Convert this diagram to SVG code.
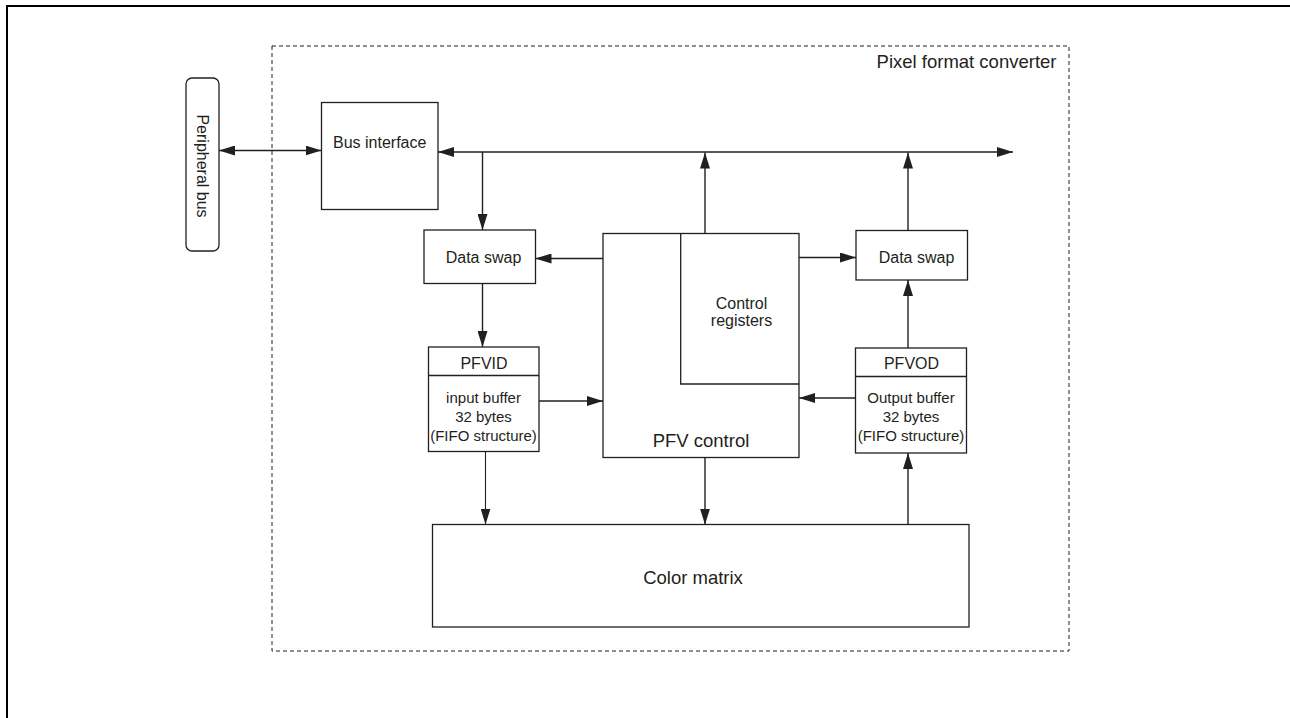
<svg xmlns="http://www.w3.org/2000/svg" width="1290" height="718" viewBox="0 0 1290 718">
<style>
.box{fill:#fff;stroke:#231f20;stroke-width:1.3}
.ln{fill:none;stroke:#231f20;stroke-width:1.4}
.t{font-family:"Liberation Sans",Arial,sans-serif;font-size:16px;fill:#231f20}
.ts{font-family:"Liberation Sans",Arial,sans-serif;font-size:15px;fill:#231f20}
.tl{font-family:"Liberation Sans",Arial,sans-serif;font-size:18.5px;fill:#231f20}
.c{text-anchor:middle}
</style>
<defs>
<marker id="ah" markerUnits="userSpaceOnUse" markerWidth="16" markerHeight="10" refX="16" refY="5" orient="auto-start-reverse">
<path d="M0,0 L16,5 L0,10 z" fill="#231f20"/>
</marker>
</defs>
<path d="M7,730 V6 H1300" fill="none" stroke="#000" stroke-width="2"/>
<g id="container">
<rect x="272" y="46" width="797" height="605" fill="none" stroke="#231f20" stroke-width="1" stroke-dasharray="4,3"/>
<text class="tl" x="1056.5" y="68" text-anchor="end">Pixel format converter</text>
</g>
<g id="peripheral-bus">
<rect class="box" x="186" y="78" width="33" height="173" rx="6"/>
<text class="t c" transform="translate(197,166) rotate(90)">Peripheral bus</text>
</g>
<g id="bus-interface">
<rect class="box" x="321.5" y="102.5" width="116.5" height="107"/>
<text class="t" x="333" y="148">Bus interface</text>
</g>
<g id="data-swap-in">
<rect class="box" x="424" y="230" width="111.5" height="53.5"/>
<text class="t c" x="483.5" y="263">Data swap</text>
</g>
<g id="data-swap-out">
<rect class="box" x="856" y="230.5" width="111.5" height="49.5"/>
<text class="t c" x="916.5" y="263">Data swap</text>
</g>
<g id="pfv-control">
<rect class="box" x="603" y="233.5" width="196" height="224"/>
<text class="tl c" x="701" y="446.5">PFV control</text>
</g>
<g id="control-registers">
<path class="ln" d="M680.7,233.5 V384 H799" style="stroke-width:1.3"/>
<text class="t c" x="741.5" y="309">Control</text>
<text class="t c" x="741.5" y="326">registers</text>
</g>
<g id="pfvid">
<rect class="box" x="428.5" y="347" width="110.5" height="104.5"/>
<line class="ln" x1="428.5" y1="375.5" x2="539" y2="375.5"/>
<text class="t c" x="484" y="369">PFVID</text>
<text class="ts c" x="483.5" y="403">input buffer</text>
<text class="ts c" x="483.5" y="422">32 bytes</text>
<text class="ts c" x="483.5" y="441">(FIFO structure)</text>
</g>
<g id="pfvod">
<rect class="box" x="855.5" y="348" width="111" height="105"/>
<line class="ln" x1="855.5" y1="376.5" x2="966.5" y2="376.5"/>
<text class="t c" x="911.5" y="369">PFVOD</text>
<text class="ts c" x="911" y="403">Output buffer</text>
<text class="ts c" x="911" y="422">32 bytes</text>
<text class="ts c" x="911" y="441">(FIFO structure)</text>
</g>
<g id="color-matrix">
<rect class="box" x="432.5" y="524.5" width="536.5" height="102.5"/>
<text class="tl c" x="693" y="584">Color matrix</text>
</g>
<g id="connectors">
<line class="ln" x1="219" y1="150.5" x2="321.5" y2="150.5" marker-start="url(#ah)" marker-end="url(#ah)"/>
<line class="ln" x1="438" y1="152" x2="1013" y2="152" marker-start="url(#ah)" marker-end="url(#ah)"/>
<line class="ln" x1="482.5" y1="152" x2="482.5" y2="230" marker-end="url(#ah)"/>
<line class="ln" x1="705" y1="233.5" x2="705" y2="152.5" marker-end="url(#ah)"/>
<line class="ln" x1="908" y1="230.5" x2="908" y2="152.5" marker-end="url(#ah)"/>
<line class="ln" x1="603" y1="258.5" x2="535.5" y2="258.5" marker-end="url(#ah)"/>
<line class="ln" x1="799" y1="257.5" x2="856" y2="257.5" marker-end="url(#ah)"/>
<line class="ln" x1="482.5" y1="283.5" x2="482.5" y2="347" marker-end="url(#ah)"/>
<line class="ln" x1="539" y1="401" x2="603" y2="401" marker-end="url(#ah)"/>
<line class="ln" x1="855.5" y1="398" x2="799" y2="398" marker-end="url(#ah)"/>
<line class="ln" x1="908" y1="348" x2="908" y2="280" marker-end="url(#ah)"/>
<line class="ln" x1="485.5" y1="451.5" x2="485.5" y2="524.5" marker-end="url(#ah)" style="stroke-width:1.1"/>
<line class="ln" x1="705" y1="457.5" x2="705" y2="524.5" marker-end="url(#ah)"/>
<line class="ln" x1="908" y1="524.5" x2="908" y2="453" marker-end="url(#ah)"/>
</g>
</svg>
